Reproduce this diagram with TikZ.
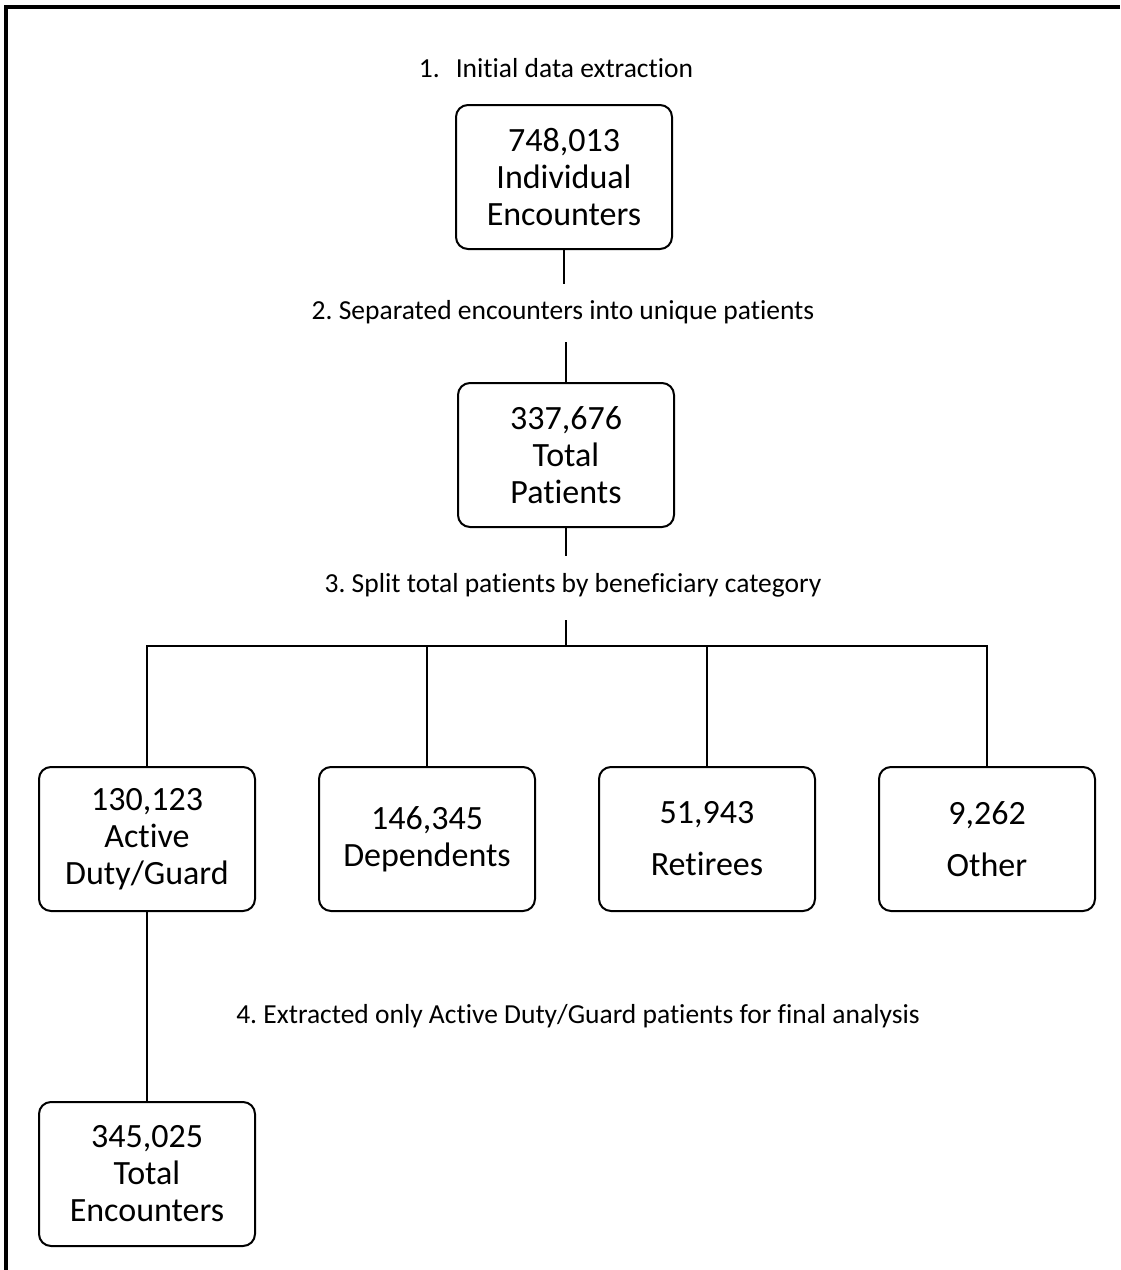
\documentclass[tikz,border=0pt]{standalone}
\usepackage{fontspec}
\setmainfont{Carlito}[Ligatures=NoCommon]
\usetikzlibrary{positioning}

\begin{document}
\frenchspacing
\begin{tikzpicture}[
    x=0.5pt, y=-0.5pt,
    box/.style={draw, line width=1pt, rounded corners=6pt,
        minimum width=108pt, minimum height=72pt, inner sep=0pt,
        align=center, font=\fontsize{17}{18.5}\selectfont},
    steplabel/.style={inner sep=0pt, font=\fontsize{13.75}{16}\selectfont},
    link/.style={line width=1pt},
    frame/.style={line width=2pt}
]
\useasboundingbox (0,0) rectangle (1120,1270);

% ==================== FRAME ====================
\draw[frame] (6,1270) -- (6,7) -- (1120,7);

% ==================== STEPS 1 AND 2 ====================
\node[steplabel] (lab1) at (556,68) {1.\hspace{8pt}Initial data extraction};
\node[box] (enc) at (564,177) {748,013\\Individual\\Encounters};

\node[steplabel] (lab2) at (563,312) {2. Separated encounters into unique patients};
\node[box] (pat) at (566,455) {337,676\\Total\\Patients};

\coordinate (enc drop) at (564,284);
\coordinate (pat rise) at (566,342);
\draw[link] (enc.south) -- (enc drop);
\draw[link] (pat rise) -- (pat.north);

% ==================== STEP 3 ====================
\node[steplabel] (lab3) at (573,585) {3. Split total patients by beneficiary category};

\node[box] (active) at (147,839) {130,123\\Active\\Duty/Guard};
\node[box] (dep) at (427,839) {146,345\\Dependents};
\node[box] (ret) at (707,839) {51,943\\[7.5pt]Retirees};
\node[box] (other) at (987,839) {9,262\\[7.5pt]Other};

\coordinate (pat drop) at (566,556);
\coordinate (split top) at (566,620);
\coordinate (split) at (566,646);
\draw[link] (pat.south) -- (pat drop);
\draw[link] (split top) -- (split);
\draw[link] (active.north) -- (active.north |- split) -- (other.north |- split) -- (other.north);
\draw[link] (dep.north |- split) -- (dep.north);
\draw[link] (ret.north |- split) -- (ret.north);

% ==================== STEP 4 ====================
\node[steplabel] (lab4) at (578,1016) {4. Extracted only Active Duty/Guard patients for final analysis};
\node[box] (final) at (147,1174) {345,025\\Total\\Encounters};

\draw[link] (active.south) -- (final.north);

\end{tikzpicture}
\end{document}
